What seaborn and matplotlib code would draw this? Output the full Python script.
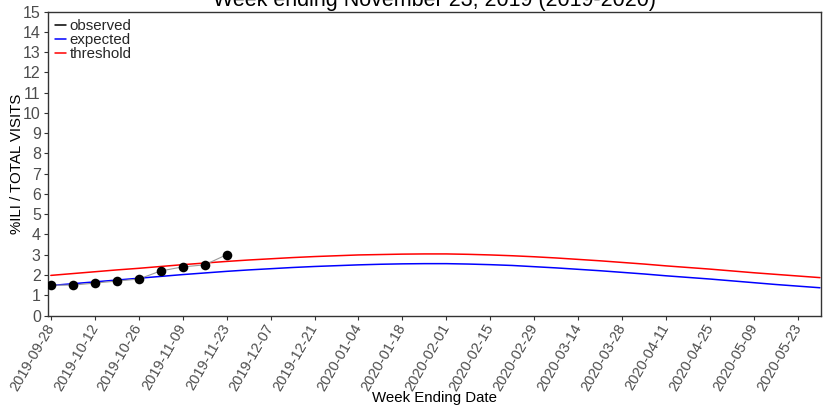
import matplotlib
matplotlib.use("Agg")
import matplotlib.pyplot as plt
from matplotlib.lines import Line2D
import pandas as pd
import seaborn as sns

# Weekly season calendar (week ending dates)
season_start = "2019-09-28"
n_weeks = 36

# Observed %ILI for weeks reported so far
observed = [1.5, 1.5, 1.6, 1.7, 1.8, 2.2, 2.4, 2.5, 3.0]

# Seasonal baseline (expected) and epidemic threshold
expected = [1.48, 1.57, 1.66, 1.75, 1.84, 1.93, 2.02, 2.10, 2.18, 2.25,
            2.31, 2.37, 2.42, 2.46, 2.50, 2.53, 2.55, 2.56, 2.56, 2.54,
            2.51, 2.47, 2.41, 2.35, 2.28, 2.21, 2.13, 2.05, 1.96, 1.88,
            1.80, 1.71, 1.62, 1.53, 1.45, 1.37]
threshold = [1.98, 2.07, 2.16, 2.25, 2.33, 2.42, 2.51, 2.59, 2.67, 2.74,
             2.80, 2.86, 2.91, 2.95, 2.99, 3.01, 3.03, 3.04, 3.04, 3.02,
             2.99, 2.95, 2.90, 2.84, 2.77, 2.70, 2.62, 2.54, 2.45, 2.37,
             2.29, 2.20, 2.11, 2.03, 1.95, 1.87]

tick_labels = ["2019-09-28", "2019-10-12", "2019-10-26", "2019-11-09",
               "2019-11-23", "2019-12-07", "2019-12-21", "2020-01-04",
               "2020-01-18", "2020-02-01", "2020-02-15", "2020-02-29",
               "2020-03-14", "2020-03-28", "2020-04-11", "2020-04-25",
               "2020-05-09", "2020-05-23"]
y_ticks = list(range(0, 16))

title = "Week ending November 23, 2019 (2019-2020)"

weeks = pd.date_range(season_start, periods=n_weeks, freq="7D")
baseline = pd.DataFrame({"week": weeks, "expected": expected, "threshold": threshold})
obs = pd.DataFrame({"week": weeks[:len(observed)], "ili": observed})

sns.set_theme(style="white")
plt.rcParams["font.family"] = ["Liberation Sans", "DejaVu Sans"]

fig = plt.figure(figsize=(8.26, 4.08), dpi=100)
ax = fig.add_axes([47.7 / 826, 1 - 315.5 / 408, (821 - 47.7) / 826, (315.5 - 11.7) / 408])

sns.lineplot(data=baseline, x="week", y="expected", color="#0000ff", lw=1.1, ax=ax)
sns.lineplot(data=baseline, x="week", y="threshold", color="#ff0000", lw=1.1, ax=ax)
sns.lineplot(data=obs, x="week", y="ili", color="#9a9a9a", lw=0.8, ax=ax)
sns.scatterplot(data=obs, x="week", y="ili", color="black", s=48, edgecolor="black",
                linewidth=0, ax=ax, zorder=5)

ax.set_xlim(pd.Timestamp("2019-09-27"), pd.Timestamp("2020-05-30 08:00"))
ax.set_ylim(0, 15)
ax.set_yticks(y_ticks)
ax.set_yticklabels([str(v) for v in y_ticks], fontsize=11.5)
ax.set_xticks(pd.to_datetime(tick_labels))
ax.set_xticklabels(tick_labels, rotation=60, ha="right", va="center",
                   rotation_mode="anchor", fontsize=10.5)

ax.tick_params(axis="both", which="major", length=3, width=0.8, color="#333333",
               labelcolor="#4d4d4d", pad=2, bottom=True, left=True)
ax.tick_params(axis="x", pad=4)
for s in ax.spines.values():
    s.set_color("#333333")
    s.set_linewidth(1.0)

ax.set_xlabel("Week Ending Date", fontsize=10.8, color="black", labelpad=-2)
ax.set_ylabel("%ILI / TOTAL VISITS", fontsize=10.8, color="black", labelpad=-1)
ax.set_title(title, fontsize=15.5, color="black", pad=4)

handles = [Line2D([], [], color="black", lw=1.1),
           Line2D([], [], color="#0000ff", lw=1.1),
           Line2D([], [], color="#ff0000", lw=1.1)]
ax.legend(handles, ["observed", "expected", "threshold"], loc="upper left",
          frameon=False, fontsize=10.8, handlelength=0.75, handletextpad=0.2,
          labelspacing=0.0, borderaxespad=0.2, borderpad=0.3)

fig.savefig("out.png", dpi=100)
